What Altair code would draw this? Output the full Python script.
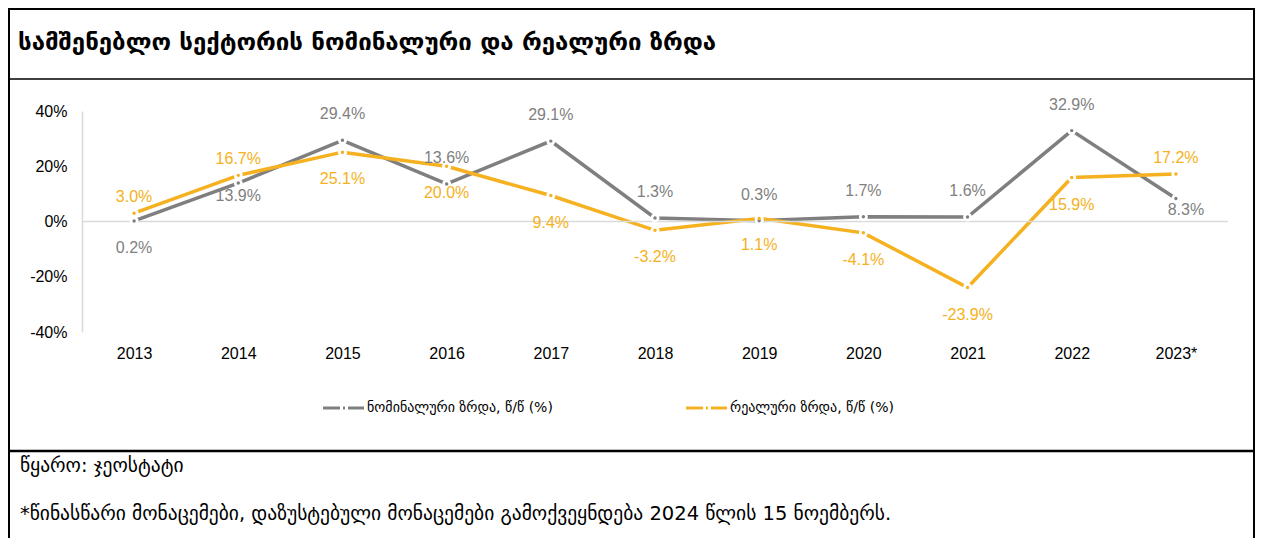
import altair as alt
import pandas as pd

years = ["2013", "2014", "2015", "2016", "2017", "2018", "2019", "2020", "2021", "2022", "2023*"]
nominal = [0.2, 13.9, 29.4, 13.6, 29.1, 1.3, 0.3, 1.7, 1.6, 32.9, 8.3]
real = [3.0, 16.7, 25.1, 20.0, 9.4, -3.2, 1.1, -4.1, -23.9, 15.9, 17.2]
# label placement classes: a = just above, A = well above, b = just below, B = well below, c = below-right
nominal_label_pos = ["B", "b", "A", "A", "A", "A", "A", "A", "A", "A", "c"]
real_label_pos = ["a", "a", "B", "B", "B", "B", "B", "B", "B", "B", "a"]
series_names = ["ნომინალური ზრდა, წ/წ (%)", "რეალური ზრდა, წ/წ (%)"]
colors = ["#7F7F7F", "#F5B120"]
y_ticks = [-40, -20, 0, 20, 40]
title_text = "სამშენებლო სექტორის ნომინალური და რეალური ზრდა"
source_text = "წყარო: ჯეოსტატი"
note_text = "*წინასწარი მონაცემები, დაზუსტებული მონაცემები გამოქვეყნდება 2024 წლის 15 ნოემბერს."

rows = []
for name, vals, poss in [(series_names[0], nominal, nominal_label_pos),
                         (series_names[1], real, real_label_pos)]:
    for yr, v, p in zip(years, vals, poss):
        rows.append({"year": yr, "value": v, "series": name, "pos": p,
                     "label": f"{v:.1f}%"})
df = pd.DataFrame(rows)

LABEL_FONT = "Liberation Sans, Arial, sans-serif"
GEO_FONT = "DejaVu Sans, sans-serif"

x_enc = alt.X("year:N", sort=years, title=None,
              axis=alt.Axis(labelAngle=0, domain=False, ticks=False, labelFontSize=16,
                            labelColor="black", labelPadding=13, labelFont=LABEL_FONT))
y_enc = alt.Y("value:Q", title=None, scale=alt.Scale(domain=[-40, 40], nice=False),
              axis=alt.Axis(values=y_ticks, labelExpr="datum.value + '%'", grid=False,
                            ticks=False, domainColor="#D9D9D9", domainWidth=1.5,
                            labelFontSize=16, labelColor="black", labelPadding=15,
                            labelFont=LABEL_FONT))
color_enc = alt.Color("series:N", scale=alt.Scale(domain=series_names, range=colors),
                      legend=None)

base = alt.Chart(df)

lines = base.mark_line(strokeWidth=3.5).encode(x=x_enc, y=y_enc, color=color_enc,
                                               detail="series:N")
zero = alt.Chart(pd.DataFrame({"value": [0]})).mark_rule(
    color="#D9D9D9", strokeWidth=1.5).encode(y=y_enc)
gaps = base.mark_point(filled=True, shape="circle", size=80, color="white",
                       opacity=1, strokeWidth=0).encode(x=x_enc, y=y_enc)
dots = base.mark_point(filled=True, shape="circle", size=12, opacity=1,
                       strokeWidth=0).encode(x=x_enc, y=y_enc, color=color_enc)

offsets = {"a": (0, -16), "A": (0, -26), "b": (0, 13), "B": (0, 27), "c": (10, 11)}
label_layers = []
for key, (dx, dy) in offsets.items():
    label_layers.append(
        base.transform_filter(alt.datum.pos == key).mark_text(
            fontSize=16, font=LABEL_FONT, baseline="middle", align="center", dx=dx, dy=dy
        ).encode(x=x_enc, y=y_enc, color=color_enc, text="label:N")
    )

one = pd.DataFrame({"k": [0]})


def hline(y, x1, x2, w):
    return alt.Chart(one).mark_rule(color="black", strokeWidth=w).encode(
        x=alt.value(x1), x2=alt.value(x2), y=alt.value(y))


def vline(x, y1, y2, w):
    return alt.Chart(one).mark_rule(color="black", strokeWidth=w).encode(
        x=alt.value(x), y=alt.value(y1), y2=alt.value(y2))


borders = [
    hline(-102, -74, 1173, 2),
    hline(-32, -74, 1173, 1.5),
    hline(340, -74, 1173, 2.5),
    vline(-73, -103, 427, 2),
    vline(1172, -103, 427, 2),
]


def text_at(txt, x, y, size, color="black", weight="normal", font=GEO_FONT):
    return alt.Chart(pd.DataFrame({"t": [txt]})).mark_text(
        align="left", baseline="middle", fontSize=size, fontWeight=weight, font=font,
        color=color).encode(x=alt.value(x), y=alt.value(y), text="t:N")


legend_items = []
for i, (name, col) in enumerate(zip(series_names, colors)):
    x0 = [241, 604][i]
    legend_items.append(
        alt.Chart(one).mark_rule(color=col, strokeWidth=3, strokeDash=[17, 3, 2, 3, 17]).encode(
            x=alt.value(x0), x2=alt.value(x0 + 41), y=alt.value(297)))
    legend_items.append(text_at(name, x0 + 44, 297, 14))

texts = [
    text_at(title_text, -64, -68, 24, weight="bold"),
    text_at(source_text, -62, 355, 19.5),
    text_at(note_text, -62, 403, 19.5),
]

chart = alt.layer(lines, zero, gaps, dots, *label_layers, *borders, *legend_items,
                  *texts).properties(
    width=1146, height=221,
    padding={"left": 74, "top": 103, "right": 27, "bottom": 206},
    autosize=alt.AutoSizeParams(type="none"),
).configure_view(stroke=None)

chart.save("out.html", embed_options={"renderer": "svg", "actions": False})
